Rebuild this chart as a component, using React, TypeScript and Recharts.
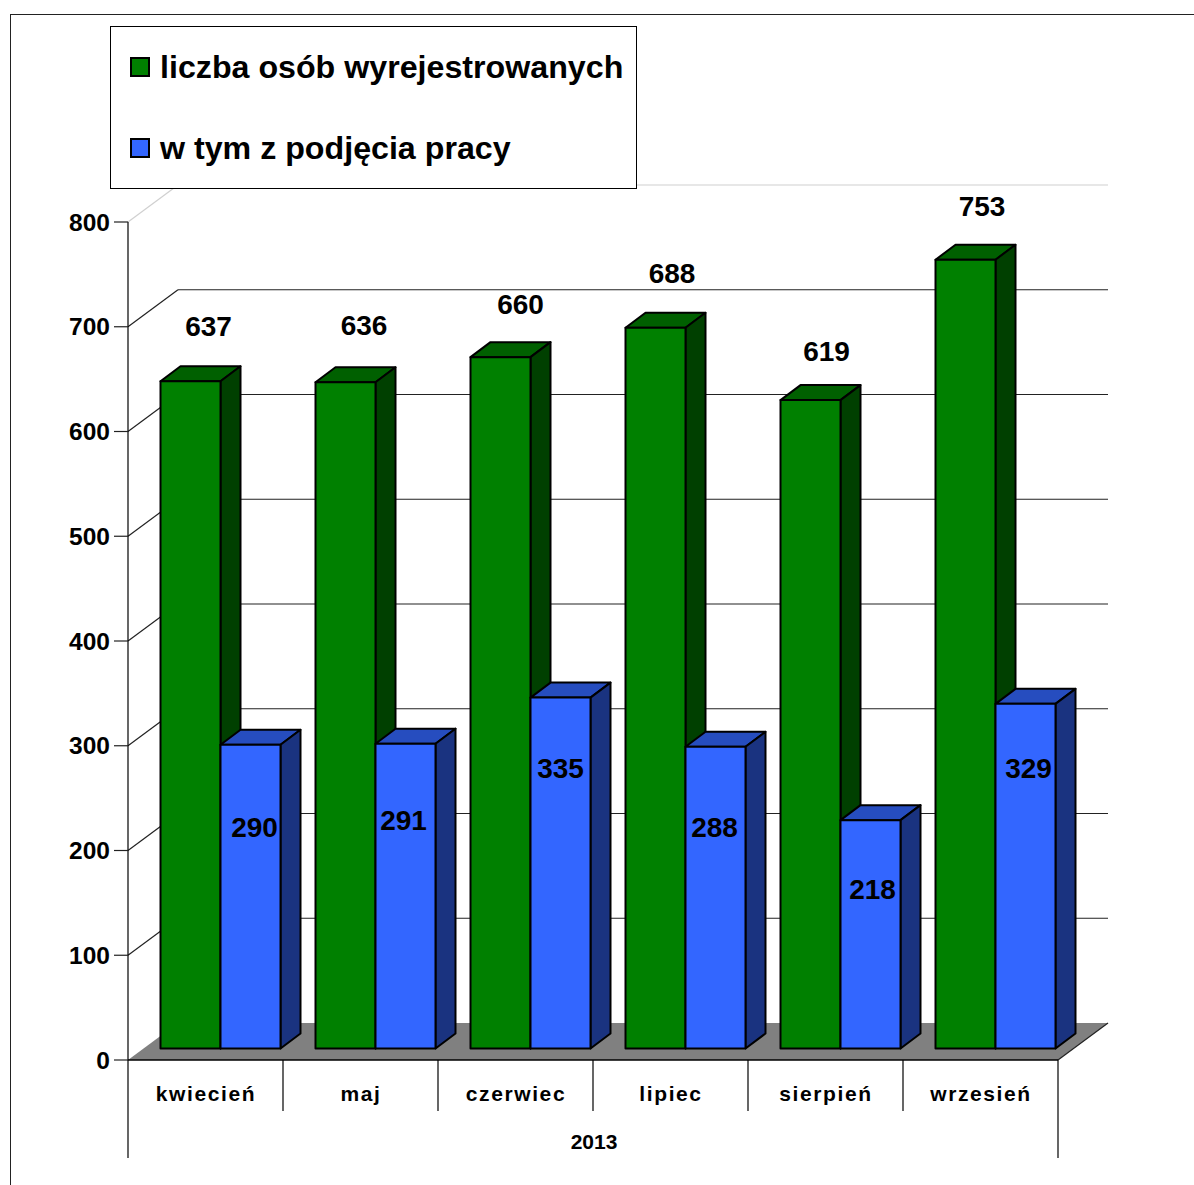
import { Bar, BarChart, CartesianGrid, LabelList, XAxis, YAxis } from "recharts";

const months = ["kwiecień", "maj", "czerwiec", "lipiec", "sierpień", "wrzesień"];
const year = "2013";
const registeredOff = [637, 636, 660, 688, 619, 753];
const tookJob = [290, 291, 335, 288, 218, 329];
const yTicks = [0, 100, 200, 300, 400, 500, 600, 700, 800];
const seriesNames = ["liczba osób wyrejestrowanych", "w tym z podjęcia pracy"];

const rows = months.map((month, i) => ({
  month,
  year,
  registeredOff: registeredOff[i],
  tookJob: tookJob[i],
}));

const FONT = '"Liberation Sans", Arial, sans-serif';
const PLOT_TOP = 222;
const PLOT_BOTTOM = 1060;
const PLOT_LEFT = 128;
const PLOT_RIGHT = 1058;
const BAND = (PLOT_RIGHT - PLOT_LEFT) / months.length;

// depth of the back wall and of the bars, and where the bars stand on the floor
const WALL_DX = 50;
const WALL_DY = 37;
const BAR_DX = 14.5;
const BAR_DY = 11.5;
const DEPTH_X = 20;
const DEPTH_Y = 15;

const GREEN = { front: "#008000", top: "#006000", side: "#004000" };
const BLUE = { front: "#3366ff", top: "#264dbf", side: "#1a3380" };

// hand-read label nudges, the original chart has them placed unevenly
const greenLabelNudge = [
  [18, -55],
  [18.5, -57],
  [20, -53],
  [16.5, -54],
  [16, -49],
  [16.5, -53],
];
const blueLabelNudge = [
  [4, 83],
  [-2, 77],
  [0, 71],
  [-1, 81],
  [2, 69],
  [3, 65],
];

function makeBox(colors: { front: string; top: string; side: string }) {
  return function Box(props: any) {
    const x = props.x + BAR_DX;
    const y = props.y - BAR_DY;
    const w = props.width;
    const h = props.height;
    const stroke = { stroke: "#000", strokeWidth: 2, strokeLinejoin: "round" as const };
    return (
      <g>
        <polygon
          points={`${x},${y} ${x + DEPTH_X},${y - DEPTH_Y} ${x + w + DEPTH_X},${y - DEPTH_Y} ${x + w},${y}`}
          fill={colors.top}
          {...stroke}
        />
        <polygon
          points={`${x + w},${y} ${x + w + DEPTH_X},${y - DEPTH_Y} ${x + w + DEPTH_X},${y + h - DEPTH_Y} ${x + w},${y + h}`}
          fill={colors.side}
          {...stroke}
        />
        <rect x={x} y={y} width={w} height={h} fill={colors.front} {...stroke} />
      </g>
    );
  };
}

function makeLabel(nudges: number[][]) {
  return function BarLabel(props: any) {
    const { x, y, width, value, index } = props;
    const [dx, dy] = nudges[index];
    return (
      <text
        x={x + BAR_DX + width / 2 + dx}
        y={y - BAR_DY + dy}
        textAnchor="middle"
        dominantBaseline="central"
        fontFamily={FONT}
        fontWeight="bold"
        fontSize={28}
        fill="#000"
      >
        {value}
      </text>
    );
  };
}

function GridLine(props: any) {
  const { x1, y1, x2 } = props;
  const isTop = Math.abs(y1 - PLOT_TOP) < 1;
  const isFloor = Math.abs(y1 - PLOT_BOTTOM) < 1;
  const color = isTop ? "#d0d0d0" : "#222";
  if (isFloor) {
    return (
      <g>
        <polygon
          points={`${x1},${y1} ${x1 + WALL_DX},${y1 - WALL_DY} ${x2 + WALL_DX},${y1 - WALL_DY} ${x2},${y1}`}
          fill="#808080"
        />
        <line x1={x2} y1={y1} x2={x2 + WALL_DX} y2={y1 - WALL_DY} stroke="#222" strokeWidth={1.2} />
      </g>
    );
  }
  return (
    <g>
      <line x1={x1} y1={y1} x2={x1 + WALL_DX} y2={y1 - WALL_DY} stroke={color} strokeWidth={1.2} />
      <line
        x1={x1 + WALL_DX}
        y1={y1 - WALL_DY}
        x2={x2 + WALL_DX}
        y2={y1 - WALL_DY}
        stroke={color}
        strokeWidth={1.2}
      />
    </g>
  );
}

function MonthTick(props: any) {
  const { x, payload } = props;
  return (
    <g>
      <line
        x1={x + BAND / 2}
        y1={PLOT_BOTTOM}
        x2={x + BAND / 2}
        y2={PLOT_BOTTOM + 51}
        stroke="#000"
        strokeWidth={1.2}
        opacity={payload.index === months.length - 1 ? 0 : 1}
      />
      <text
        x={x + 0.5}
        y={PLOT_BOTTOM + 33}
        textAnchor="middle"
        dominantBaseline="central"
        fontFamily={FONT}
        fontWeight="bold"
        fontSize={21}
        letterSpacing={1.6}
        fill="#000"
      >
        {payload.value}
      </text>
    </g>
  );
}

function YearTick(props: any) {
  const { x, payload } = props;
  return (
    <g>
      <line x1={PLOT_LEFT} y1={PLOT_BOTTOM} x2={PLOT_LEFT} y2={PLOT_BOTTOM + 98} stroke="#000" strokeWidth={1.2} />
      <line x1={PLOT_RIGHT} y1={PLOT_BOTTOM} x2={PLOT_RIGHT} y2={PLOT_BOTTOM + 98} stroke="#000" strokeWidth={1.2} />
      <text
        x={x + 1}
        y={PLOT_BOTTOM + 81}
        textAnchor="middle"
        dominantBaseline="central"
        fontFamily={FONT}
        fontWeight="bold"
        fontSize={21}
        fill="#000"
      >
        {payload.value}
      </text>
    </g>
  );
}

function ChartLegend() {
  const swatches = [GREEN.front, BLUE.front];
  return (
    <div
      style={{
        position: "absolute",
        left: 110,
        top: 26,
        width: 525,
        height: 161,
        background: "#fff",
        border: "1.5px solid #000",
        fontFamily: FONT,
        fontWeight: "bold",
        fontSize: 32.2,
        color: "#000",
      }}
    >
      {seriesNames.map((name, i) => (
        <div
          key={name}
          style={{
            position: "absolute",
            left: 19,
            top: i === 0 ? 21 : 102,
            height: 38,
            display: "flex",
            alignItems: "center",
            whiteSpace: "nowrap",
          }}
        >
          <span
            style={{
              width: 16,
              height: 16,
              marginRight: 10,
              background: swatches[i],
              border: "2px solid #000",
              display: "inline-block",
            }}
          />
          {name}
        </div>
      ))}
    </div>
  );
}

export default function App() {
  return (
    <div style={{ position: "absolute", left: 0, top: 0, width: 1194, height: 1185, overflow: "hidden", background: "#fff" }}>
      <div
        style={{
          position: "absolute",
          left: 10,
          top: 14,
          width: 1300,
          height: 1300,
          border: "1.5px solid #222",
        }}
      />
      <div style={{ position: "absolute", left: 0, top: 0 }}>
        <BarChart
          width={1194}
          height={1185}
          data={rows}
          margin={{ top: PLOT_TOP, right: 1194 - PLOT_RIGHT, bottom: 0, left: 0 }}
          barSize={60}
          barGap={0}
        >
          <CartesianGrid vertical={false} horizontal={GridLine as never} />
          <XAxis
            dataKey="month"
            height={60}
            interval={0}
            tickSize={0}
            tickMargin={0}
            axisLine={{ stroke: "#000", strokeWidth: 1.4 }}
            tickLine={false}
            tick={MonthTick as never}
          />
          <XAxis
            xAxisId="year"
            dataKey="year"
            height={65}
            allowDuplicatedCategory={false}
            axisLine={false}
            tickLine={false}
            tick={YearTick as never}
          />
          <YAxis
            width={PLOT_LEFT}
            domain={[0, 800]}
            ticks={yTicks}
            interval={0}
            tickSize={14}
            tickMargin={4}
            axisLine={{ stroke: "#000", strokeWidth: 1.2 }}
            tickLine={{ stroke: "#222", strokeWidth: 1.2 }}
            tick={{ fontFamily: FONT, fontWeight: "bold", fontSize: 24.5, fill: "#000" }}
          />
          <Bar dataKey="registeredOff" isAnimationActive={false} shape={makeBox(GREEN) as never}>
            <LabelList dataKey="registeredOff" content={makeLabel(greenLabelNudge) as never} />
          </Bar>
          <Bar dataKey="tookJob" isAnimationActive={false} shape={makeBox(BLUE) as never}>
            <LabelList dataKey="tookJob" content={makeLabel(blueLabelNudge) as never} />
          </Bar>
        </BarChart>
      </div>
      <ChartLegend />
    </div>
  );
}
